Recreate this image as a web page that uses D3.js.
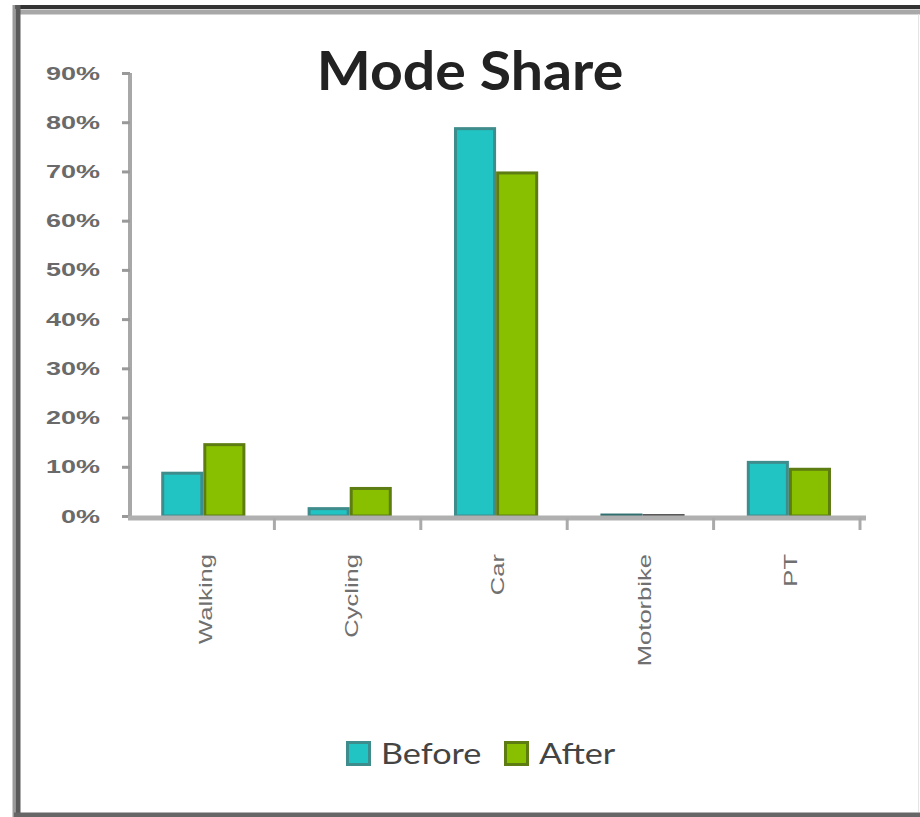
<!DOCTYPE html>
<html>
<head>
<meta charset="utf-8">
<script src="https://cdn.jsdelivr.net/npm/d3@7"></script>
<style>
  html, body { margin: 0; padding: 0; background: #fff; }
  svg { display: block; }
</style>
</head>
<body>
<svg id="chart" width="920" height="817"></svg>
<script>
// Mode share before and after, by travel mode
const categories = ["Walking", "Cycling", "Car", "Motorbike", "PT"];
const seriesNames = ["Before", "After"];
const before = [0.09, 0.018, 0.79, 0.005, 0.112];
const after  = [0.148, 0.059, 0.70, 0.004, 0.098];
const yTicks = [0, 0.1, 0.2, 0.3, 0.4, 0.5, 0.6, 0.7, 0.8, 0.9];
const title = "Mode Share";

const fills   = { Before: "#22c3c3", After: "#88c000" };
const strokes = { Before: "#3f8c8c", After: "#5d7c12" };
// the smallest bars read as dark slivers
const thinStrokes = { Before: "#2f6f6f", After: "#555555" };

const svg = d3.select("#chart");

// stretch a text element along its own direction by a factor
function stretch(sel, k) {
  sel.each(function () {
    const len = this.getComputedTextLength();
    d3.select(this).attr("textLength", len * k).attr("lengthAdjust", "spacingAndGlyphs");
  });
}

// outer frame
svg.append("line").attr("x1", 14).attr("x2", 920).attr("y1", 7).attr("y2", 7)
  .attr("stroke", "#333").attr("stroke-width", 4);
svg.append("line").attr("x1", 20).attr("x2", 920).attr("y1", 12).attr("y2", 12)
  .attr("stroke", "#a8a8a8").attr("stroke-width", 5);
svg.append("line").attr("x1", 14).attr("x2", 14).attr("y1", 5).attr("y2", 817)
  .attr("stroke", "#9a9a9a").attr("stroke-width", 3);
svg.append("line").attr("x1", 18).attr("x2", 18).attr("y1", 5).attr("y2", 817)
  .attr("stroke", "#5a5a5a").attr("stroke-width", 5);
svg.append("line").attr("x1", 14).attr("x2", 920).attr("y1", 815).attr("y2", 815)
  .attr("stroke", "#666").attr("stroke-width", 5);
svg.append("line").attr("x1", 918.5).attr("x2", 918.5).attr("y1", 14).attr("y2", 812)
  .attr("stroke", "#e4e4e4").attr("stroke-width", 1);

// scales
const x0 = d3.scaleBand().domain(categories).range([129, 861]).padding(0);
const x1 = d3.scaleBand().domain(seriesNames)
  .range([x0.bandwidth() * 0.22, x0.bandwidth() * 0.795]).padding(0);
const y = d3.scaleLinear().domain([0, 0.9]).range([516, 73]);

// y axis
const yAxis = svg.append("g").attr("transform", "translate(130,0)")
  .call(d3.axisLeft(y).tickValues(yTicks).tickFormat(d3.format(".0%")).tickSize(8).tickPadding(22));
yAxis.select(".domain").attr("stroke", "#a8a8a8").attr("stroke-width", 4)
  .attr("d", `M0,${y(0.9)}V${y(0) + 4}`);
yAxis.selectAll(".tick line").attr("stroke", "#999").attr("stroke-width", 3);
yAxis.selectAll(".tick text")
  .attr("font-family", "'Liberation Sans', Arial, sans-serif")
  .attr("font-size", 19).attr("font-weight", "bold").attr("fill", "#6a6a6a")
  .call(stretch, 1.42);

// bars
const data = categories.map((c, i) => ({ cat: c, vals: [
  { key: "Before", v: before[i] }, { key: "After", v: after[i] }] }));

const groups = svg.append("g").selectAll("g").data(data).join("g")
  .attr("transform", d => `translate(${x0(d.cat)},0)`);
groups.selectAll("rect").data(d => d.vals).join("rect")
  .attr("x", d => x1(d.key) + 1.5)
  .attr("width", x1.bandwidth() - 3)
  .attr("y", d => y(d.v) + 1.5)
  .attr("height", d => Math.max(0.5, y(0) - y(d.v) - 1.5))
  .attr("fill", d => fills[d.key])
  .attr("stroke", d => d.v < 0.01 ? thinStrokes[d.key] : strokes[d.key])
  .attr("stroke-width", 3);

// x axis
const xAxis = svg.append("g").attr("transform", "translate(0,518)")
  .call(d3.axisBottom(x0).tickSize(0).tickFormat(""));
xAxis.select(".domain").attr("stroke", "#b0b0b0").attr("stroke-width", 5)
  .attr("d", `M128,0H866`);
const bounds = d3.range(categories.length + 1).map(i => x0.range()[0] + i * x0.step());
xAxis.selectAll(".bound").data(bounds.slice(1)).join("line").attr("class", "bound")
  .attr("x1", d => d - 1).attr("x2", d => d - 1).attr("y1", 0).attr("y2", 12)
  .attr("stroke", "#aaa").attr("stroke-width", 3);

// rotated category labels
svg.append("g").selectAll("text").data(categories).join("text")
  .attr("transform", d => `translate(${x0(d) + x0.bandwidth() / 2 + 3},554) rotate(-90)`)
  .attr("text-anchor", "end").attr("dy", "0.35em")
  .attr("font-family", "'Liberation Sans', Arial, sans-serif")
  .attr("font-size", 18).attr("fill", "#707070")
  .text(d => d)
  .call(stretch, 1.42);

// title
svg.append("text").attr("x", 470).attr("y", 90).attr("text-anchor", "middle")
  .attr("font-family", "Lato, 'Open Sans', sans-serif").attr("font-weight", "bold")
  .attr("font-size", 54).attr("fill", "#222")
  .text(title)
  .call(stretch, 1.06);

// legend
const legend = svg.append("g").attr("transform", "translate(346,741)");
const legendX = d3.scaleOrdinal().domain(seriesNames).range([0, 158]);
const items = legend.selectAll("g").data(seriesNames).join("g")
  .attr("transform", d => `translate(${legendX(d)},0)`);
items.append("rect").attr("x", 1.5).attr("y", 1.5).attr("width", 22).attr("height", 22)
  .attr("fill", d => fills[d]).attr("stroke", d => strokes[d]).attr("stroke-width", 3);
items.append("text").attr("x", 35).attr("y", 23)
  .attr("font-family", "Lato, 'Open Sans', sans-serif")
  .attr("font-size", 29).attr("fill", "#444")
  .text(d => d)
  .call(stretch, 1.18);
</script>
</body>
</html>
